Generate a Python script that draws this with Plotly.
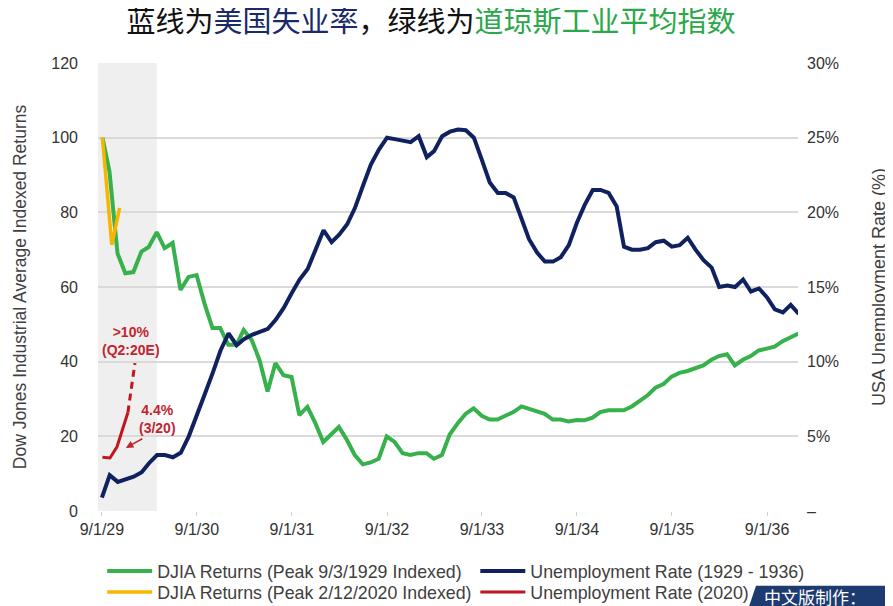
import calendar
import plotly.graph_objects as go

# ---------------- data ----------------
# DJIA 1929-1936, indexed to 9/3/1929 peak = 100 (month-end values)
djia_start_date = "1929-09-03"
djia_start_value = 100
djia_1929 = [
    91, 69, 63.7, 64, 69.5, 70.7, 74.7, 70.4, 71.8, 59.2, 62.7, 63.2,        # Sep29-Aug30
    55.7, 49, 49, 44.5, 44.5, 48.5, 45.8, 40.4, 32, 39.6, 36.4, 35.9,        # Sep30-Aug31
    25.7, 27.9, 23.6, 18.5, 20.4, 22.5, 19, 15, 12.5, 13, 14, 20,            # Sep31-Aug32
    18.5, 15.5, 15, 15.5, 15.5, 14, 15, 20.5, 23.5, 26, 27.5, 25.5,          # Sep32-Aug33
    24.5, 24.5, 25.5, 26.5, 28, 27.3, 26.5, 26, 24.5, 24.5, 24, 24.4,        # Sep33-Aug34
    24.3, 25, 26.5, 27, 27, 27, 28, 29.5, 31, 33, 34, 36,                    # Sep34-Aug35
    37, 37.5, 38.2, 39, 40.5, 41.5, 42, 39, 40.5, 41.5, 43, 43.5,            # Sep35-Aug36
    44, 45.5, 46.5, 47.5,                                                    # Sep36-Dec36
]

# USA unemployment rate 1929-1936 (%), monthly from Sep 1929
unemp_1929 = [
    0.9, 2.4, 1.95, 2.1, 2.3, 2.6, 3.2, 3.75, 3.75, 3.6, 3.9, 5.0,
    6.5, 7.8, 9.25, 10.75, 11.9, 11.1, 11.5, 11.8, 12.0, 12.2, 12.8, 13.6,
    14.6, 15.5, 16.2, 17.5, 18.8, 18.0, 18.5, 19.2, 20.3, 21.8, 23.2, 24.2,
    25.0, 24.9, 24.8, 24.7, 25.1, 23.7, 24.1, 25.1, 25.4, 25.55, 25.5, 25.0,
    23.5, 22.0, 21.3, 21.3, 21.0, 19.5, 18.2, 17.3, 16.7, 16.7, 17.0, 17.8,
    19.3, 20.5, 21.5, 21.5, 21.3, 20.4, 17.7, 17.5, 17.5, 17.6, 18.0, 18.1,
    17.7, 17.8, 18.3, 17.5, 16.8, 16.3, 15.0, 15.1, 15.0, 15.5, 14.7, 14.9,
    14.3, 13.5, 13.3, 13.8, 13.2,
]

# 2020 series, aligned onto the 1929 timeline
djia_2020_dates = ["1929-09-03", "1929-10-09", "1929-11-08"]
djia_2020 = [100, 71.3, 81.2]

unemp_2020_dates = ["1929-09-03", "1929-10-02", "1929-10-29", "1929-11-21", "1929-12-10"]
unemp_2020 = [3.6, 3.55, 4.3, 5.6, 6.6]
unemp_2020_est_dates = ["1929-12-10", "1929-12-23", "1930-01-06"]
unemp_2020_est = [6.6, 8.3, 9.9]

x_tick_dates = ["1929-09-01", "1930-09-01", "1931-09-01", "1932-09-01",
                "1933-09-01", "1934-09-01", "1935-09-01", "1936-09-01"]
x_tick_text = ["9/1/29", "9/1/30", "9/1/31", "9/1/32", "9/1/33", "9/1/34", "9/1/35", "9/1/36"]
left_ticks = [0, 20, 40, 60, 80, 100, 120]
right_ticks = [0, 5, 10, 15, 20, 25, 30]
right_tick_text = ["–", "5%", "10%", "15%", "20%", "25%", "30%"]

# ---------------- date helpers ----------------
def month_ends(y, m, n):
    out = []
    for _ in range(n):
        d = calendar.monthrange(y, m)[1]
        out.append(f"{y}-{m:02d}-{d:02d}")
        m += 1
        if m > 12:
            m, y = 1, y + 1
    return out

def month_starts(y, m, n):
    out = []
    for _ in range(n):
        out.append(f"{y}-{m:02d}-01")
        m += 1
        if m > 12:
            m, y = 1, y + 1
    return out

djia_dates = [djia_start_date] + month_ends(1929, 9, len(djia_1929))
djia_vals = [djia_start_value] + djia_1929
unemp_dates = month_starts(1929, 9, len(unemp_1929))

GREEN = "#36b14b"
NAVY = "#10215f"
YELLOW = "#f7b500"
RED = "#c0161e"
ANN_RED = "#bf2630"
FONT = "Liberation Sans, Arial, sans-serif"
CJK = "Noto Sans CJK SC, sans-serif"

fig = go.Figure()
fig.add_trace(go.Scatter(x=djia_dates, y=djia_vals, mode="lines", legend="legend",
                         name="DJIA Returns (Peak 9/3/1929 Indexed)",
                         line=dict(color=GREEN, width=4)))
fig.add_trace(go.Scatter(x=unemp_dates, y=unemp_1929, mode="lines", yaxis="y2", legend="legend2",
                         name="Unemployment Rate (1929 - 1936)",
                         line=dict(color=NAVY, width=4)))
fig.add_trace(go.Scatter(x=djia_2020_dates, y=djia_2020, mode="lines", legend="legend3",
                         name="DJIA Returns (Peak 2/12/2020 Indexed)",
                         line=dict(color=YELLOW, width=3.5)))
fig.add_trace(go.Scatter(x=unemp_2020_dates, y=unemp_2020, mode="lines", yaxis="y2", legend="legend4",
                         name="Unemployment Rate (2020)",
                         line=dict(color=RED, width=3)))
fig.add_trace(go.Scatter(x=unemp_2020_est_dates, y=unemp_2020_est, mode="lines", yaxis="y2",
                         showlegend=False,
                         line=dict(color=RED, width=3, dash="7px,5px")))

# shaded 2020 window
fig.add_shape(type="rect", xref="x", yref="paper", x0="1929-08-17", x1="1930-03-31",
              y0=0, y1=1, fillcolor="#efefef", line=dict(width=0), layer="below")

# bottom-right banner
fig.add_shape(type="path", xref="paper", yref="paper",
              path="M 0.94 -0.167 L 1.2 -0.167 L 1.2 -0.25 L 0.922 -0.25 Z",
              fillcolor="#1d3b6f", line=dict(width=0))
fig.add_annotation(xref="paper", yref="paper", x=0.948, y=-0.19, xanchor="left", yanchor="middle",
                   text="中文版制作：", showarrow=False,
                   font=dict(family=CJK, size=17, color="white"))

# annotations
fig.add_annotation(x="1929-12-21", y=45.5, xref="x", yref="y",
                   text="<b>&gt;10%<br>(Q2:20E)</b>", showarrow=False,
                   font=dict(family=FONT, size=14, color=ANN_RED))
fig.add_annotation(x="1930-04-04", y=24.6, xref="x", yref="y",
                   text="<b>4.4%<br>(3/20)</b>", showarrow=False,
                   font=dict(family=FONT, size=14, color=ANN_RED))
fig.add_annotation(x="1929-12-02", y=16.9, xref="x", yref="y", text="",
                   showarrow=True, arrowhead=2, arrowsize=1, arrowwidth=1.5,
                   arrowcolor=ANN_RED, ax=18, ay=-10)

legend_common = dict(orientation="v", xanchor="left", yanchor="top",
                     font=dict(family=FONT, size=17.8, color="#404040"),
                     bgcolor="rgba(0,0,0,0)", itemwidth=45, tracegroupgap=0)
ROW1, ROW2 = -0.0935, -0.1404
COL1, COL2 = 0.006, 0.539

# page body adds an 8px offset, so the figure is 8px smaller and margins shifted
fig.update_layout(
    width=885, height=598,
    margin=dict(l=90, r=95, t=55, b=95, autoexpand=False),
    paper_bgcolor="white", plot_bgcolor="white",
    font=dict(family=FONT, size=16, color="#333333"),
    showlegend=True,
    title=dict(text='蓝线为<span style="color:#1b2a6b">美国失业率</span>，绿线为'
                    '<span style="color:#2aa84a">道琼斯工业平均指数</span>',
               x=0.478, xanchor="center", y=1 - 14 / 598, yanchor="middle",
               yref="container", font=dict(family=CJK, size=29, color="#111111")),
    legend=dict(x=COL1, y=ROW1, **legend_common),
    legend2=dict(x=COL2, y=ROW1, **legend_common),
    legend3=dict(x=COL1, y=ROW2, **legend_common),
    legend4=dict(x=COL2, y=ROW2, **legend_common),
    xaxis=dict(type="date", range=["1929-08-17", "1936-12-29"],
               tickvals=x_tick_dates, ticktext=x_tick_text,
               showgrid=False, zeroline=False, showline=False,
               ticks="outside", ticklen=4, tickcolor="#d0d0d0",
               tickfont=dict(size=16, color="#333333")),
    yaxis=dict(range=[0, 120], tickvals=left_ticks, showgrid=True, gridcolor="#dadada",
               gridwidth=1.5, zeroline=False, ticks="", ticklabelstandoff=19,
               title=dict(text="Dow Jones Industrial Average Indexed Returns",
                          font=dict(size=17.5, color="#404040"), standoff=20),
               tickfont=dict(size=16, color="#333333")),
    yaxis2=dict(range=[0, 30], overlaying="y", side="right", tickvals=right_ticks,
                ticktext=right_tick_text, showgrid=False, zeroline=False,
                ticks="", ticklabelstandoff=8,
                title=dict(text="USA Unemployment Rate (%)",
                           font=dict(size=18, color="#404040"), standoff=34),
                tickfont=dict(size=16, color="#333333")),
)

fig.write_html("out.html")
